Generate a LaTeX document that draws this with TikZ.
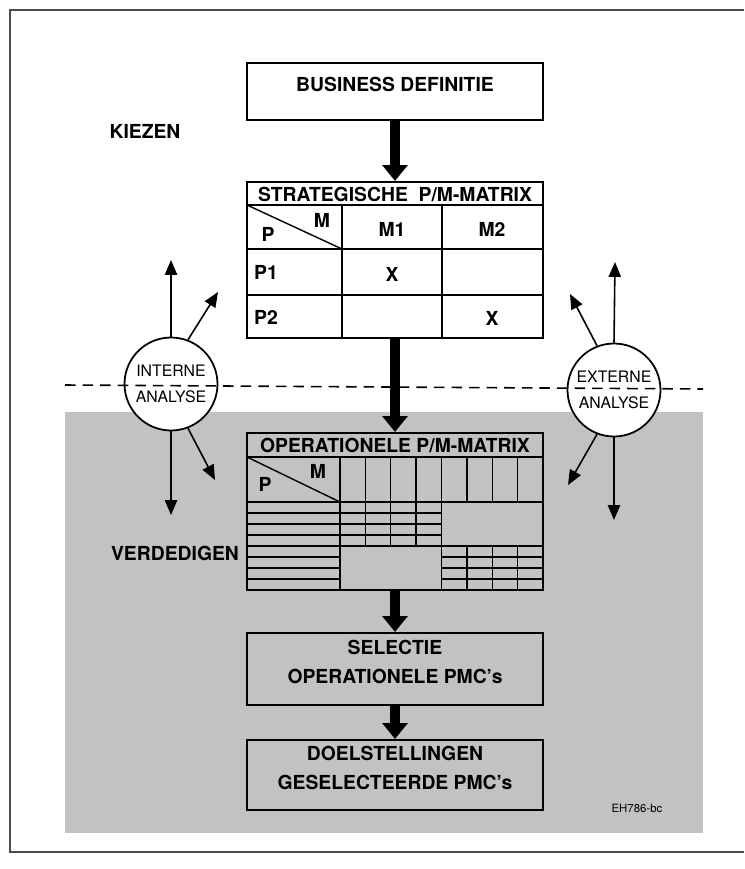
\documentclass[tikz,border=0pt]{standalone}
\usepackage{fontspec}
\setmainfont{TeX Gyre Heros}
\usetikzlibrary{calc,positioning,arrows.meta,fit,shapes}

\begin{document}
\begin{tikzpicture}[x=0.02cm,y=-0.02cm,
  box/.style={draw,line width=1.2pt,inner sep=0pt,font=\fontsize{11}{16.5}\selectfont\bfseries,align=center},
  cell/.style={font=\fontsize{11}{13}\selectfont\bfseries,inner sep=1pt},
  ana/.style={circle,draw,line width=1pt,fill=white,minimum size=1.86cm,inner sep=0pt,font=\fontsize{9}{14.7}\selectfont,align=center},
  big/.style={line width=5.6pt,-{Triangle[length=9pt,width=14pt]}},
  thin/.style={line width=0.9pt,-{Triangle[length=8.5pt,width=7pt]}},
  grid/.style={line width=0.8pt}]
  \useasboundingbox (0,0) rectangle (744,869);

  % frame and shaded part
  \fill[black!24] (65,412) rectangle (703,833);
  \draw[line width=0.8pt,black!70] (744,10) -- (10,10) -- (10,852) -- (744,852);

  \node[cell] (kiezen) at (145,131) {KIEZEN};
  \node[cell] (verded) at (175,553) {VERDEDIGEN};

  \node[box,fit={(247,63) (543,120)}] (bd) {BUSINESS DEFINITIE};

  % strategic matrix
  \node[box,fit={(247,182) (543,338)}] (sm) {};
  \node[cell] (sm-t) at (395,194) {STRATEGISCHE\ \ P/M-MATRIX};
  \draw[grid] (247,205) -- (543,205);
  \draw[grid] (247,249) -- (543,249);
  \draw[grid] (247,295) -- (543,295);
  \draw[grid] (342,205) -- (342,338);
  \draw[grid] (442,205) -- (442,338);
  \draw[grid] (247,205) -- (342,249);
  \node[cell] (sm-m) at (322,220) {M};
  \node[cell] (sm-p) at (268,234) {P};
  \node[cell] (m1) at (392,229) {M1};
  \node[cell] (m2) at (492,229) {M2};
  \node[cell,anchor=west] (p1) at (252,272) {P1};
  \node[cell,anchor=west] (p2) at (252,317) {P2};
  \node[cell] (x1) at (392,274) {X};
  \node[cell] (x2) at (492,318) {X};

  % operational matrix
  \node[box,fit={(247,433) (543,590)}] (om) {};
  \node[cell] (om-t) at (395,445) {OPERATIONELE P/M-MATRIX};
  \draw[grid] (247,457) -- (543,457);
  \draw[grid] (247,502) -- (543,502);
  \draw[grid] (247,457) -- (340,502);
  \draw[grid] (340,457) -- (340,590);
  \draw[grid] (441.5,457) -- (441.5,590);
  \draw[grid] (340,546) -- (543,546);
  \foreach \i in {1,2,3} {
    \draw[grid] ({340+25.375*\i},457) -- ({340+25.375*\i},546);
    \draw[grid] ({441.5+25.375*\i},457) -- ({441.5+25.375*\i},502);
    \draw[grid] ({441.5+25.375*\i},546) -- ({441.5+25.375*\i},590);
    \draw[grid] (340,{502+11*\i}) -- (441.5,{502+11*\i});
    \draw[grid] (441.5,{546+11*\i}) -- (543,{546+11*\i});
  }
  \foreach \y in {513,524,...,579}
    \draw[grid] (247,\y) -- (340,\y);
  \node[cell] (om-m) at (318,471) {M};
  \node[cell] (om-p) at (265,484) {P};

  \node[box,fit={(247,633) (543,705)}] (sel) {SELECTIE\\OPERATIONELE PMC's};
  \node[box,fit={(247,740) (543,810)}] (doel) {DOELSTELLINGEN\\GESELECTEERDE PMC's};
  \node[font=\fontsize{6.5}{8}\selectfont] (code) at (637,808) {EH786-bc};

  % analysis circles
  \node[ana] (int) at (171,384) {INTERNE\\ANALYSE};
  \node[ana] (ext) at (614,390) {EXTERNE\\ANALYSE};
  \coordinate (int-n) at (171,260);
  \coordinate (int-ne) at (218,292);
  \coordinate (int-s) at (171,515);
  \coordinate (int-se) at (215,480);
  \coordinate (ext-n) at (615,262);
  \coordinate (ext-nw) at (570,294);
  \coordinate (ext-s) at (614,520);
  \coordinate (ext-sw) at (568,485);
  \draw[thin] (int.north) -- (int-n);
  \draw[thin] (int.69) -- (int-ne);
  \draw[thin] (int.south) -- (int-s);
  \draw[thin] (int.-69) -- (int-se);
  \draw[thin] (ext.north) -- (ext-n);
  \draw[thin] (ext.111) -- (ext-nw);
  \draw[thin] (ext.south) -- (ext-s);
  \draw[thin] (ext.-111) -- (ext-sw);

  \draw[line width=0.9pt,dash pattern=on 6pt off 4pt] (65,385) -- (703,389);

  \draw[big] (bd.south) -- (sm.north);
  \draw[big] (sm.south) -- (om.north);
  \draw[big] (om.south) -- (sel.north);
  \draw[big] (sel.south) -- (doel.north);
\end{tikzpicture}
\end{document}
